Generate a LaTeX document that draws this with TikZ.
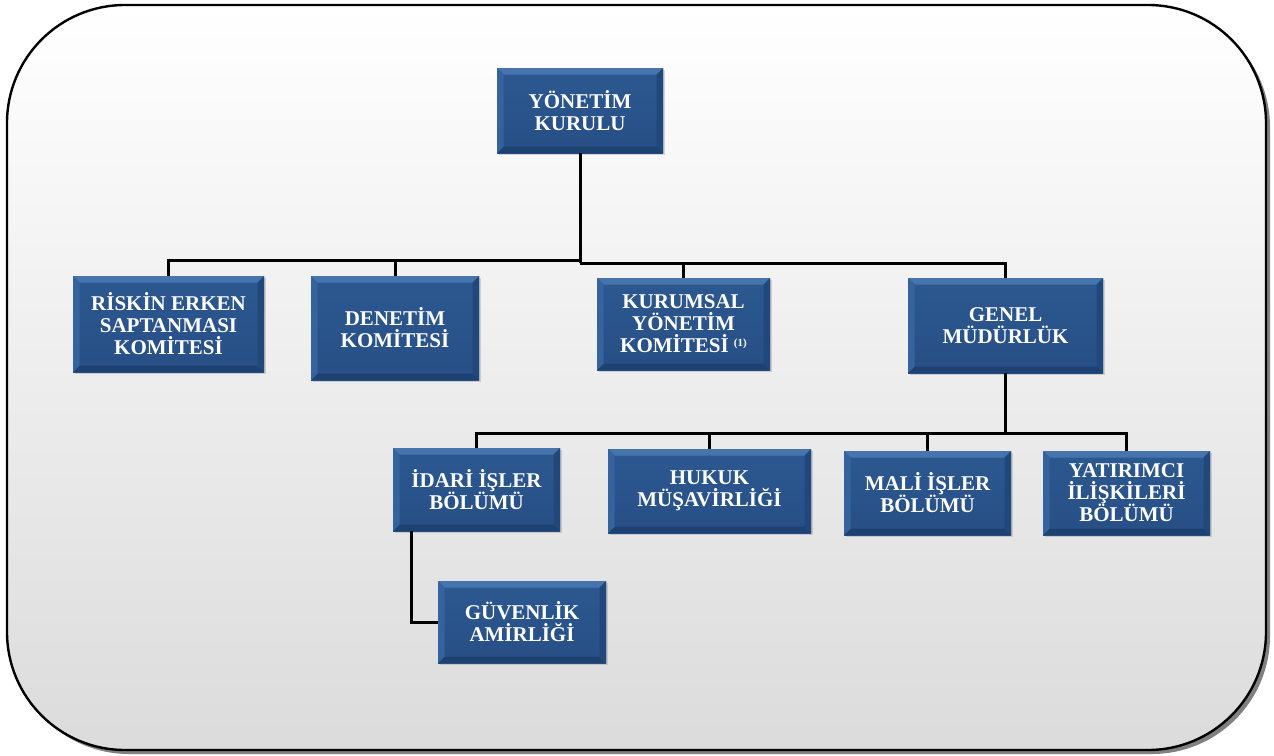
\documentclass[tikz,border=0pt]{standalone}
\usepackage{fontspec}
\setmainfont{Liberation Serif}
\usetikzlibrary{shadows}
\definecolor{facetop}{HTML}{2C5890}
\definecolor{facebot}{HTML}{274F86}
\definecolor{bevtop}{HTML}{4675AE}
\definecolor{bevleft}{HTML}{34639D}
\definecolor{bevright}{HTML}{21487B}
\definecolor{bevbot}{HTML}{1D4271}
\newcommand{\boxfont}{\bfseries\fontsize{21}{22}\selectfont}
\tikzset{
  orgbox/.style={rectangle, inner sep=0pt, text=white, align=center, font=\boxfont,
    top color=facetop, bottom color=facebot, draw=none,
    drop shadow={opacity=0.3, shadow xshift=2pt, shadow yshift=-2pt},
    path picture={
      \fill[bevtop] (path picture bounding box.north west) -- (path picture bounding box.north east)
        -- ([shift={(-6.5pt,-6.5pt)}]path picture bounding box.north east) -- ([shift={(6.5pt,-6.5pt)}]path picture bounding box.north west) -- cycle;
      \fill[bevbot] (path picture bounding box.south west) -- (path picture bounding box.south east)
        -- ([shift={(-6.5pt,6.5pt)}]path picture bounding box.south east) -- ([shift={(6.5pt,6.5pt)}]path picture bounding box.south west) -- cycle;
      \fill[bevleft] (path picture bounding box.north west) -- (path picture bounding box.south west)
        -- ([shift={(6.5pt,6.5pt)}]path picture bounding box.south west) -- ([shift={(6.5pt,-6.5pt)}]path picture bounding box.north west) -- cycle;
      \fill[bevright] (path picture bounding box.north east) -- (path picture bounding box.south east)
        -- ([shift={(-6.5pt,6.5pt)}]path picture bounding box.south east) -- ([shift={(-6.5pt,-6.5pt)}]path picture bounding box.north east) -- cycle;
    }},
  conn/.style={draw=black, line width=3pt}
}
\begin{document}
\begin{tikzpicture}[x=1pt,y=-1pt]
\useasboundingbox (0,0) rectangle (1274,755);
% frame
\fill[black!50, rounded corners=118pt] (11,9) rectangle (1270,754);
\shade[top color=white, bottom color=black!14, rounded corners=118pt] (7,5) rectangle (1266,750);
\draw[black, line width=2.4pt, rounded corners=118pt] (7,5) rectangle (1266,750);

% bus coordinates
\coordinate (busL) at (0,260);
\coordinate (busR) at (0,263);
\coordinate (busB) at (0,433);
\coordinate (g1) at (411,531);

\node[orgbox, minimum width=166pt, minimum height=85pt] (yk) at (580,110.5) {YÖNETİM\\KURULU};
\node[orgbox, minimum width=191pt, minimum height=96pt] (risk) at (168.5,324) {RİSKİN ERKEN\\SAPTANMASI\\KOMİTESİ};
\node[orgbox, minimum width=168pt, minimum height=104pt] (den) at (395,328) {DENETİM\\KOMİTESİ};
\node[orgbox, minimum width=173pt, minimum height=92pt] (kur) at (683.5,324) {KURUMSAL\\YÖNETİM\\KOMİTESİ {\fontsize{11}{11}\selectfont\raisebox{6pt}{(1)}}};
\node[orgbox, minimum width=195pt, minimum height=95pt] (gen) at (1005.5,325.5) {GENEL\\MÜDÜRLÜK};
\node[orgbox, minimum width=167pt, minimum height=83pt] (idari) at (476.5,489.5) {İDARİ İŞLER\\BÖLÜMÜ};
\node[orgbox, minimum width=203pt, minimum height=84pt] (hukuk) at (709.5,491) {HUKUK\\MÜŞAVİRLİĞİ};
\node[orgbox, minimum width=167pt, minimum height=84pt] (mali) at (927.5,493) {MALİ İŞLER\\BÖLÜMÜ};
\node[orgbox, minimum width=167pt, minimum height=84pt] (yat) at (1126.5,493) {YATIRIMCI\\İLİŞKİLERİ\\BÖLÜMÜ};
\node[orgbox, minimum width=168pt, minimum height=82pt] (guv) at (522,622) {GÜVENLİK\\AMİRLİĞİ};

\draw[conn] (yk.south) -- (yk.south |- busR);
\draw[conn] (yk.south |- busL) -| (risk.north);
\draw[conn] (yk.south |- busL) -| (den.north);
\draw[conn] (yk.south |- busR) -| (kur.north);
\draw[conn] (yk.south |- busR) -| (gen.north);

\draw[conn] (gen.south) -- (gen.south |- busB);
\draw[conn] (gen.south |- busB) -| (idari.north);
\draw[conn] (gen.south |- busB) -| (hukuk.north);
\draw[conn] (gen.south |- busB) -| (mali.north);
\draw[conn] (gen.south |- busB) -| (yat.north);

\draw[conn] (g1) |- (guv.west);
\end{tikzpicture}
\end{document}
